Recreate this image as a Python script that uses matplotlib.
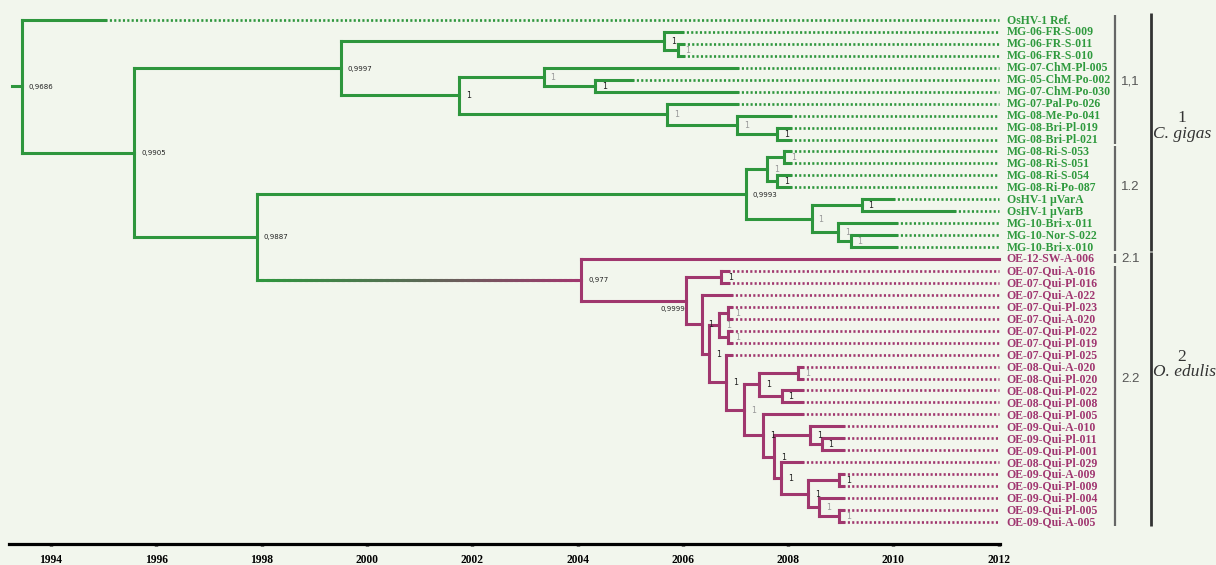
import matplotlib
matplotlib.use('Agg')
import matplotlib.pyplot as plt
import numpy as np
from matplotlib.collections import LineCollection
from matplotlib.colors import to_rgb

# ---------------- data ----------------
leaf_names = [
    'OsHV-1 Ref.', 'MG-06-FR-S-009', 'MG-06-FR-S-011', 'MG-06-FR-S-010',
    'MG-07-ChM-Pl-005', 'MG-05-ChM-Po-002', 'MG-07-ChM-Po-030', 'MG-07-Pal-Po-026',
    'MG-08-Me-Po-041', 'MG-08-Bri-Pl-019', 'MG-08-Bri-Pl-021', 'MG-08-Ri-S-053',
    'MG-08-Ri-S-051', 'MG-08-Ri-S-054', 'MG-08-Ri-Po-087', 'OsHV-1 \u03bcVarA',
    'OsHV-1 \u03bcVarB', 'MG-10-Bri-x-011', 'MG-10-Nor-S-022', 'MG-10-Bri-x-010',
    'OE-12-SW-A-006', 'OE-07-Qui-A-016', 'OE-07-Qui-Pl-016', 'OE-07-Qui-A-022',
    'OE-07-Qui-Pl-023', 'OE-07-Qui-A-020', 'OE-07-Qui-Pl-022', 'OE-07-Qui-Pl-019',
    'OE-07-Qui-Pl-025', 'OE-08-Qui-A-020', 'OE-08-Qui-Pl-020', 'OE-08-Qui-Pl-022',
    'OE-08-Qui-Pl-008', 'OE-08-Qui-Pl-005', 'OE-09-Qui-A-010', 'OE-09-Qui-Pl-011',
    'OE-09-Qui-Pl-001', 'OE-08-Qui-Pl-029', 'OE-09-Qui-A-009', 'OE-09-Qui-Pl-009',
    'OE-09-Qui-Pl-004', 'OE-09-Qui-Pl-005', 'OE-09-Qui-A-005']

# year where the solid (dated) part of each terminal branch ends
leaf_solid_end = [
    1995.03, 2005.98, 2006.00, 2006.00, 2007.03, 2005.03, 2007.03, 2007.03,
    2008.04, 2008.04, 2008.04, 2008.04, 2008.04, 2008.04, 2008.04, 2009.99,
    2011.15, 2010.05, 2010.05, 2010.05, 2012.00, 2006.86, 2006.86, 2006.92,
    2006.92, 2006.92, 2006.92, 2006.92, 2006.92, 2008.27, 2008.27, 2008.26,
    2008.26, 2008.26, 2009.04, 2009.04, 2009.04, 2008.26, 2009.04, 2009.04,
    2009.04, 2009.04, 2009.04]
tip_year = 2012.0
root_stub_year = 1993.26

node_ids = ['root', 'A', 'B', 'C', 'D', 'E', 'F', 'G', 'H', 'I', 'J', 'K',
            'L', 'M', 'N', 'O', 'P', 'Q', 'R', 'S', 'T', 'U', 'V', 'W', 'X',
            'Y', 'Z', 'AA', 'AB', 'AC', 'AD', 'AE', 'AF', 'AG', 'AH', 'AI',
            'AJ', 'AK', 'AL', 'AM', 'AN', 'AO']
node_years = [1993.45, 1995.58, 1999.51, 1997.91, 2005.64, 2005.91, 2001.75,
              2003.36, 2004.33, 2005.70, 2007.03, 2007.79, 2007.20, 2007.60,
              2007.92, 2007.79, 2008.45, 2009.40, 2008.95, 2009.19, 2004.07,
              2006.06, 2006.73, 2006.36, 2006.50, 2006.69, 2006.86, 2006.86,
              2006.82, 2007.16, 2007.45, 2008.19, 2007.88, 2007.52, 2007.73,
              2008.42, 2008.64, 2007.87, 2008.38, 2008.97, 2008.59, 2008.97]
node_children = [
    [0, 'A'], ['B', 'C'], ['D', 'F'], ['L', 'T'], [1, 'E'], [2, 3],
    ['G', 'I'], [4, 'H'], [5, 6], [7, 'J'], [8, 'K'], [9, 10],
    ['M', 'P'], ['N', 'O'], [11, 12], [13, 14], ['Q', 'R'], [15, 16],
    [17, 'S'], [18, 19], [20, 'U'], ['V', 'W'], [21, 22], [23, 'X'],
    ['Y', 'AB'], ['Z', 'AA'], [24, 25], [26, 27], [28, 'AC'], ['AD', 'AG'],
    ['AE', 'AF'], [29, 30], [31, 32], [33, 'AH'], ['AI', 'AK'], [34, 'AJ'],
    [35, 36], [37, 'AL'], ['AM', 'AN'], [38, 39], [40, 'AO'], [41, 42]]
node_support = ['0,9686', '0,9905', '0,9997', '0,9887', '1', '1', '1', '1',
                '1', '1', '1', '1', '0,9993', '1', '1', '1', '1', '1', '1',
                '1', '0,977', '0,9999', '1', '1', '1', '1', '1', '1', '1',
                '1', '1', '1', '1', '1', '1', '1', '1', '1', '1', '1', '1', '1']
faint_support = {'E', 'G', 'I', 'J', 'M', 'N', 'P', 'R', 'S', 'Y', 'Z', 'AA',
                 'AE', 'AC', 'AN', 'AO'}

axis_years = list(range(1994, 2013, 2))

clade_labels = ['1,1', '1.2', '2.1', '2.2']
clade_first = [0, 11, 20, 21]
clade_last = [10, 19, 20, 42]
group_numbers = ['1', '2']
group_species = ['C. gigas', 'O. edulis']
group_first = [0, 20]
group_last = [19, 42]

# ---------------- layout / style ----------------
W, H = 1216, 565
PX0, PXY = 51.0, 52.65          # pixel of 1994, pixels per year


def px2yr(px):
    return 1994 + (px - PX0) / PXY


ROW0, ROWH = 20.0, 11.95
GREEN = '#2e963d'
PURPLE = '#a0376e'
GREEN_TXT = '#2f9a3e'
PURPLE_TXT = '#a03670'
BG = '#f2f6ed'
LW = 2.2
LWD = 1.9
DOT = (0, (0.8, 0.85))

fig = plt.figure(figsize=(W / 100, H / 100), dpi=100, facecolor=BG)
ax = fig.add_axes([0, 0, 1, 1])
ax.set_facecolor(BG)
ax.set_xlim(px2yr(0), px2yr(W))
ax.set_ylim(H, 0)

idx = {n: i for i, n in enumerate(node_ids)}


def ypos(c):
    if isinstance(c, int):
        return ROW0 + ROWH * c
    ys = [ypos(k) for k in node_children[idx[c]]]
    return (min(ys) + max(ys)) / 2


def hline(x0, x1, y, color, **kw):
    ax.plot([x0, x1], [y, y], color=color, lw=LW, solid_capstyle='projecting', **kw)


def draw(node, parent_x, color):
    if node == 'T':
        color = PURPLE
    if isinstance(node, int):
        y = ypos(node)
        xe = leaf_solid_end[node]
        hline(parent_x, xe, y, color)
        if xe < tip_year:
            ax.plot([xe, tip_year], [y, y], color=color, lw=LWD, ls=DOT,
                    dash_capstyle='butt')
        return
    i = idx[node]
    x = node_years[i]
    y = ypos(node)
    if node == 'T':
        # colour changes gradually along the branch joining the two groups
        n = 60
        xs = np.linspace(parent_x, x, n + 1)
        segs = [[(xs[k], y), (xs[k + 1], y)] for k in range(n)]
        g, p = np.array(to_rgb(GREEN)), np.array(to_rgb(PURPLE))
        mid = np.array(to_rgb('#5a6a55'))
        cols = []
        for k in range(n):
            t = k / (n - 1)
            if t < 0.5:
                c = g + (mid - g) * (t / 0.5)
            else:
                c = mid + (p - mid) * ((t - 0.5) / 0.5)
            cols.append(c)
        ax.add_collection(LineCollection(segs, colors=cols, linewidths=LW,
                                         capstyle='projecting'))
    else:
        hline(parent_x, x, y, color)
    ys = [ypos(c) for c in node_children[i]]
    ax.plot([x, x], [min(ys), max(ys)], color=color, lw=LW,
            solid_capstyle='projecting')
    # support value
    sup = node_support[i]
    fs = 5.0 if ',' in sup else 5.8
    sc = '#9a9a9a' if node in faint_support else '#222222'
    if node == 'U':
        ax.text(x - 0.02, y + 8, sup, ha='right', va='center', fontsize=fs,
                color=sc, family='DejaVu Sans')
    else:
        ax.text(x + 0.13, y + 0.5, sup, ha='left', va='center', fontsize=fs,
                color=sc, family='DejaVu Sans')
    for c in node_children[i]:
        draw(c, x, color)


draw('root', root_stub_year, GREEN)

# leaf labels
for i, name in enumerate(leaf_names):
    col = GREEN_TXT if i < 20 else PURPLE_TXT
    ax.text(tip_year + 0.15, ypos(i) + 0.5, name, ha='left', va='center',
            fontsize=8.5, fontweight='bold', color=col, family='Liberation Serif')

# clade bars
clade_label_y = [82, 187, 259, 379]
for lab, f, l, ly in zip(clade_labels, clade_first, clade_last, clade_label_y):
    y0 = ypos(f) - 5
    y1 = ypos(l) + 4
    ax.plot([px2yr(1115), px2yr(1115)], [y0, y1], color='#666666', lw=1.6,
            solid_capstyle='butt')
    ax.text(px2yr(1121), ly, lab, ha='left', va='center', fontsize=9.5,
            color='#555555', family='Liberation Sans')

group_num_y = [118, 357]
group_sp_y = [134, 372]
for num, sp, f, l, ny, sy in zip(group_numbers, group_species, group_first,
                                  group_last, group_num_y, group_sp_y):
    y0 = ypos(f) - 7
    y1 = ypos(l) + 4
    ax.plot([px2yr(1151), px2yr(1151)], [y0, y1], color='#333333', lw=2.0,
            solid_capstyle='butt')
    ax.text(px2yr(1182), ny, num, ha='center', va='center', fontsize=12.5,
            color='#333333', family='Liberation Serif')
    ax.text(px2yr(1153), sy, sp, ha='left', va='center', fontsize=12.5,
            style='italic', color='#333333', family='Liberation Serif')

# time axis
for s in ['top', 'left', 'right']:
    ax.spines[s].set_visible(False)
sp = ax.spines['bottom']
sp.set_position(('data', 544))
sp.set_bounds(px2yr(9), tip_year + 0.02)
sp.set_linewidth(2.3)
sp.set_color('black')
ax.set_yticks([])
ax.set_xticks(axis_years)
ax.set_xticklabels([str(y) for y in axis_years], fontsize=8.3,
                   fontweight='bold', family='Liberation Serif')
ax.tick_params(axis='x', direction='out', length=1.5, width=2.5, pad=6)

fig.savefig('out.png', dpi=100, facecolor=BG)
